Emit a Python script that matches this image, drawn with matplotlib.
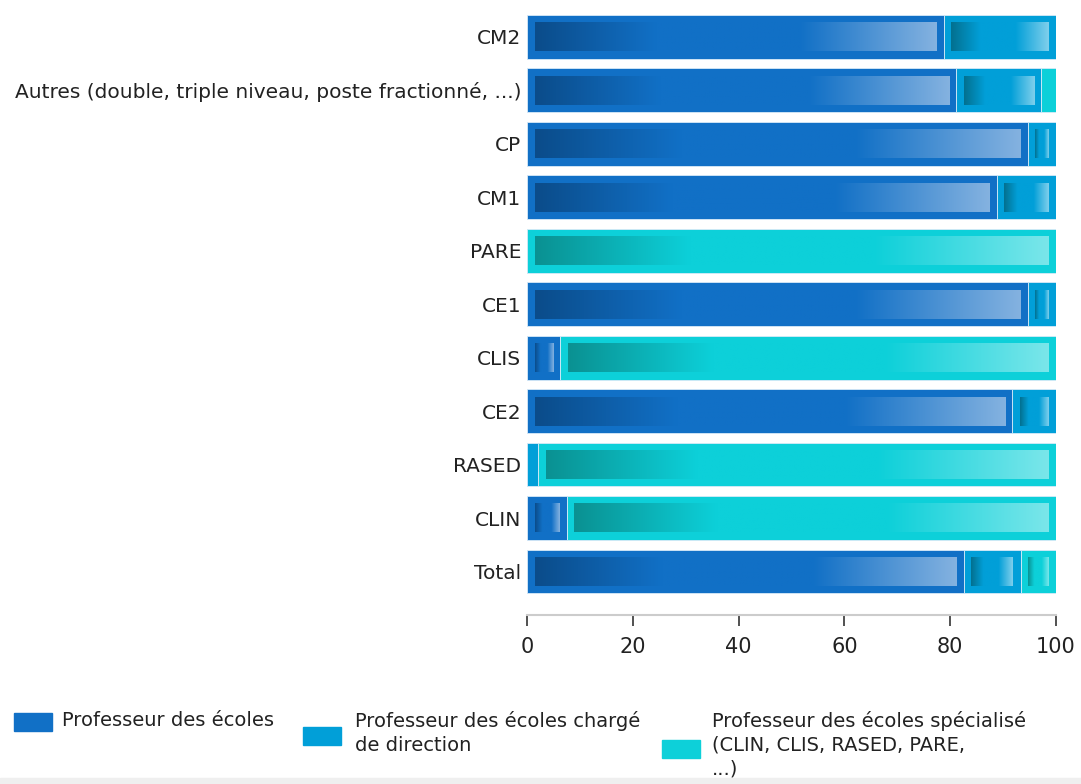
import numpy as np
import matplotlib
matplotlib.use("Agg")
import matplotlib.pyplot as plt
from matplotlib.patches import Rectangle

categories = ["CM2", "Autres (double, triple niveau, poste fractionné, ...)", "CP", "CM1",
              "PARE", "CE1", "CLIS", "CE2", "RASED", "CLIN", "Total"]
prof_ecoles = [78.8, 81.1, 94.7, 88.8, 0.0, 94.7, 6.3, 91.7, 0.0, 7.5, 82.6]
prof_direction = [21.2, 16.1, 5.3, 11.2, 0.0, 5.3, 0.0, 8.3, 2.1, 0.0, 10.7]
prof_specialise = [0.0, 2.8, 0.0, 0.0, 100.0, 0.0, 93.7, 0.0, 97.9, 92.5, 6.7]
series_labels = ["Professeur des écoles",
                 "Professeur des écoles chargé\nde direction",
                 "Professeur des écoles spécialisé\n(CLIN, CLIS, RASED, PARE,\n...)"]
xticks = [0, 20, 40, 60, 80, 100]

main_colors = ["#1170c6", "#019fd8", "#0dd0d9"]
dark_colors = ["#0b4c8a", "#03708f", "#0a9192"]
light_colors = ["#84b2e0", "#7fcfec", "#7ae6ea"]

W, H = 1081, 784
fig = plt.figure(figsize=(W / 100, H / 100), dpi=100)
ax_left, ax_right = 527 / W, 1056 / W
ax_top, ax_bot = 1.0, 1 - 615 / H
ax = fig.add_axes([ax_left, ax_bot, ax_right - ax_left, ax_top - ax_bot])

ylim = (10 + 43.5 / 53.5, -36.8 / 53.5)
bar_h = 0.82
ix = 7.5 / 529 * 100   # inner inset in data units (x)
iy = 0.14              # inner inset (y)


def hex2rgb(h):
    return np.array(matplotlib.colors.to_rgb(h))


def gradient(dark, main, light, n=256):
    t = np.linspace(0, 1, n)
    stops = [0.0, 0.30, 0.66, 1.0]
    cols = [hex2rgb(dark), hex2rgb(main), hex2rgb(main), hex2rgb(light)]
    arr = np.zeros((1, n, 3))
    for c in range(3):
        arr[0, :, c] = np.interp(t, stops, [col[c] for col in cols])
    return arr


grads = [gradient(d, m, l) for d, m, l in zip(dark_colors, main_colors, light_colors)]

y = np.arange(len(categories))
series = [prof_ecoles, prof_direction, prof_specialise]
left = np.zeros(len(categories))
for s, vals in enumerate(series):
    vals = np.array(vals)
    ax.barh(y, vals, left=left, height=bar_h, color=main_colors[s],
            edgecolor="#d8eaf8", linewidth=0.6, zorder=2)
    for i in range(len(categories)):
        w = vals[i]
        if w > 2 * ix + 0.3:
            x0 = left[i] + ix
            x1 = left[i] + w - ix
            ax.imshow(grads[s], extent=(x0, x1, y[i] + bar_h / 2 - iy, y[i] - bar_h / 2 + iy),
                      aspect="auto", interpolation="bilinear", zorder=3)
    left = left + vals

ax.set_xlim(0, 100)
ax.set_ylim(*ylim)
ax.set_yticks(y)
ax.set_yticklabels(categories, fontsize=14.5, color="#222222")
ax.tick_params(axis="y", length=0, pad=4)
ax.set_xticks(xticks)
ax.set_xticklabels([str(v) for v in xticks], fontsize=15, color="#222222")
ax.tick_params(axis="x", length=8, width=1.2, color="#333333", pad=8, direction="out")
for side in ["top", "right", "left"]:
    ax.spines[side].set_visible(False)
ax.spines["bottom"].set_color("#cccccc")
ax.spines["bottom"].set_linewidth(1.5)
ax.patch.set_alpha(0)

# legend
leg_items = [(14, 62, 722), (303, 355, 736), (662, 712, 749)]
for (px, tx, cy), lab, col in zip(leg_items, series_labels, main_colors):
    fig.patches.append(Rectangle((px / W, 1 - (cy + 9) / H), 38 / W, 18 / H,
                                 transform=fig.transFigure, color=col, figure=fig))
    fig.text(tx / W, 1 - 711 / H, lab, fontsize=14, color="#222222",
             va="top", ha="left", linespacing=1.32)

fig.patches.append(Rectangle((0, 0), 1, 6 / H, transform=fig.transFigure,
                             color="#efefef", figure=fig, zorder=10))

fig.savefig("out.png", dpi=100)
